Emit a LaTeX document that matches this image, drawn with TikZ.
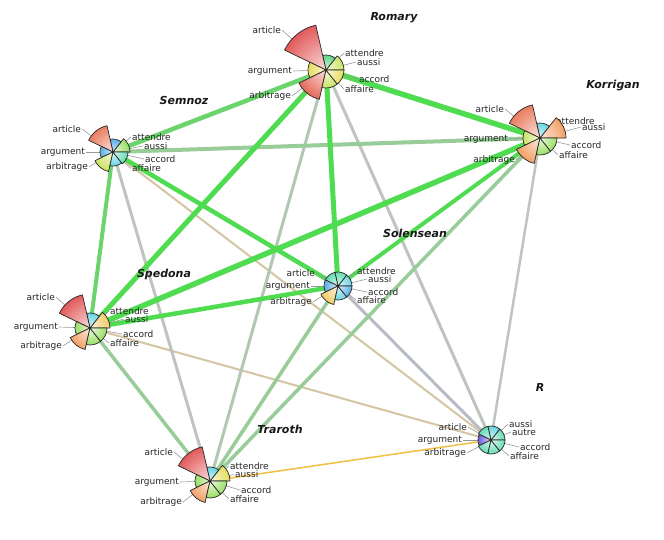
\documentclass[tikz,border=0pt]{standalone}
\usepackage{fontspec}
\setmainfont{DejaVu Sans}[BoldFont={DejaVu Sans Bold},ItalicFont={DejaVu Sans Oblique},BoldItalicFont={DejaVu Sans Bold Oblique}]
\usetikzlibrary{calc}
\definecolor{gBright}{HTML}{50DC50}
\definecolor{gMid}{HTML}{6CD46C}
\definecolor{gPale}{HTML}{98CC98}
\definecolor{gGreyG}{HTML}{B2C8B2}
\definecolor{gGrey}{HTML}{BEC4BE}
\definecolor{gGreyB}{HTML}{B8BCC6}
\definecolor{gTan}{HTML}{D4C6A2}
\definecolor{gGold}{HTML}{F0C040}
\definecolor{cRed}{HTML}{E25B5B}
\definecolor{cRedS}{HTML}{E4685A}
\definecolor{cSalmon}{HTML}{EA7E62}
\definecolor{cOrange}{HTML}{F2A066}
\definecolor{cYellowOr}{HTML}{F2CC6A}
\definecolor{cYellow}{HTML}{E6DE5E}
\definecolor{cYG}{HTML}{CCE466}
\definecolor{cGreen}{HTML}{9ADE66}
\definecolor{cGreenT}{HTML}{5CD482}
\definecolor{cTeal}{HTML}{66DCB4}
\definecolor{cCyan}{HTML}{6AD4E2}
\definecolor{cBlue}{HTML}{5AAEE4}
\definecolor{cPurple}{HTML}{6E5AE0}
\tikzset{
  sectline/.style={draw=black!85, line width=0.7pt, line join=round},
  lab/.style={font=\fontsize{9}{10}\selectfont, text=black!85, inner sep=1pt},
  leader/.style={draw=black!40, line width=0.6pt},
  ttl/.style={font=\fontsize{11}{12}\selectfont\bfseries\itshape, text=black!90, inner sep=0pt},
  edge/.style={line cap=butt},
}
\newcommand{\chartsect}[4]{%
  \pgfmathsetmacro\angS{#2*360/7}%
  \pgfmathsetmacro\angE{(#2+1)*360/7}%
  \begin{scope}
    \clip (#1) -- ++(\angS:#3) arc[start angle=\angS, end angle=\angE, radius=#3] -- cycle;
    \shade[inner color=#4!22!white, outer color=#4] (#1) circle[radius=#3];
  \end{scope}
  \draw[sectline] (#1) -- ++(\angS:#3) arc[start angle=\angS, end angle=\angE, radius=#3] -- cycle;
}
\begin{document}
\begin{tikzpicture}[x=1pt,y=1pt]
\useasboundingbox (0,0) rectangle (664,-539);
\fill[white] (0,0) rectangle (664,-539);
% centres
\coordinate (romary) at (326,-70);
\coordinate (korrigan) at (540,-138);
\coordinate (semnoz) at (113,-152);
\coordinate (solensean) at (338,-286);
\coordinate (spedona) at (90,-328);
\coordinate (rnode) at (491,-440);
\coordinate (traroth) at (210,-481);
% connectors
\foreach \a/\b/\w/\c in {
  semnoz/rnode/2/gTan, spedona/rnode/2/gTan, korrigan/rnode/2.5/gGrey,
  romary/rnode/3/gGrey, semnoz/traroth/3/gGrey, solensean/rnode/3/gGreyB,
  romary/traroth/3/gGreyG,
  korrigan/traroth/3.5/gPale, solensean/traroth/3.5/gPale, spedona/traroth/3.5/gPale,
  semnoz/korrigan/4/gPale,
  traroth/rnode/1.5/gGold,
  semnoz/spedona/4/gMid,
  korrigan/solensean/4/gBright, semnoz/solensean/4.5/gBright, spedona/solensean/4.5/gBright,
  romary/semnoz/4.5/gMid, romary/spedona/5/gBright, romary/solensean/5/gBright,
  romary/korrigan/5.5/gBright, korrigan/spedona/5.5/gBright}
  \draw[edge, line width=\w pt, draw=\c] (\a) -- (\b);
% labels and leaders
\foreach \nm/\t/\x/\y/\an in {
  romary/article/282/30/east, romary/attendre/344/53/west, romary/aussi/356/62/west,
  romary/accord/358/79/west, romary/affaire/344/89/west, romary/arbitrage/292/96/east,
  romary/argument/293/71/east,
  korrigan/article/505/109/east, korrigan/attendre/555/121/west, korrigan/aussi/581/127/west,
  korrigan/accord/570/145/west, korrigan/affaire/558/155/west, korrigan/arbitrage/516/160/east,
  korrigan/argument/509/139/east,
  semnoz/article/82/129/east, semnoz/attendre/131/137/west, semnoz/aussi/143/146/west,
  semnoz/accord/144/159/west, semnoz/affaire/131/168.5/west, semnoz/arbitrage/89/167/east,
  semnoz/argument/86/152/east,
  solensean/article/316/273/east, solensean/attendre/356/271/west, solensean/aussi/367/279/west,
  solensean/accord/367/292/west, solensean/affaire/356/300/west, solensean/arbitrage/313/302/east,
  solensean/argument/311/286/east,
  spedona/article/56/297/east, spedona/attendre/109/311/west, spedona/aussi/124/319/west,
  spedona/accord/122/334/west, spedona/affaire/109/343/west, spedona/arbitrage/63/346/east,
  spedona/argument/59/327/east,
  rnode/article/468/427/east, rnode/aussi/508/424/west, rnode/autre/511/432/west,
  rnode/accord/519/447/west, rnode/affaire/509/456/west, rnode/arbitrage/467/453/east,
  rnode/argument/463/440/east,
  traroth/article/174/452/east, traroth/attendre/229/466/west, traroth/aussi/234/474.5/west,
  traroth/accord/240/490/west, traroth/affaire/229/499/west, traroth/arbitrage/183/502/east,
  traroth/argument/180/482/east}
{
  \node[lab, anchor=\an] (\nm-\t) at (\x,-\y) {\t};
  \draw[leader] (\nm-\t.\an) -- (\nm);
}
% charts
\foreach \i/\r/\c in {0/18/cYG, 1/15/cGreenT, 2/46/cRed, 3/18/cYellow, 4/30/cRedS, 5/18/cYG, 6/18/cYellow}
  {\chartsect{romary}{\i}{\r}{\c}}
\foreach \i/\r/\c in {0/26/cOrange, 1/15/cCyan, 2/34/cSalmon, 3/17/cYG, 4/26/cOrange, 5/17/cGreen, 6/17/cGreen}
  {\chartsect{korrigan}{\i}{\r}{\c}}
\foreach \i/\r/\c in {0/17/cGreen, 1/13/cBlue, 2/27/cSalmon, 3/13/cBlue, 4/20/cYG, 5/14/cCyan, 6/15/cTeal}
  {\chartsect{semnoz}{\i}{\r}{\c}}
\foreach \i/\r/\c in {0/14/cCyan, 1/14/cTeal, 2/14/cTeal, 3/14/cBlue, 4/19/cYellowOr, 5/14/cCyan, 6/14/cBlue}
  {\chartsect{solensean}{\i}{\r}{\c}}
\foreach \i/\r/\c in {0/20/cYellowOr, 1/15/cCyan, 2/34/cRed, 3/15/cGreen, 4/22/cOrange, 5/17/cGreen, 6/17/cGreen}
  {\chartsect{spedona}{\i}{\r}{\c}}
\foreach \i/\r/\c in {0/14/cTeal, 1/14/cCyan, 2/14/cTeal, 3/13/cPurple, 4/14/cTeal, 5/14/cTeal, 6/14/cTeal}
  {\chartsect{rnode}{\i}{\r}{\c}}
\foreach \i/\r/\c in {0/20/cYellow, 1/14/cCyan, 2/35/cRed, 3/15/cGreen, 4/22/cOrange, 5/17/cGreen, 6/17/cGreen}
  {\chartsect{traroth}{\i}{\r}{\c}}
% titles
\node[ttl] (t-romary) at (394,-18) {Romary};
\node[ttl] (t-korrigan) at (613,-86) {Korrigan};
\node[ttl] (t-semnoz) at (184,-100) {Semnoz};
\node[ttl] (t-solensean) at (415,-233) {Solensean};
\node[ttl] (t-spedona) at (164,-274) {Spedona};
\node[ttl] (t-r) at (540,-387) {R};
\node[ttl] (t-traroth) at (280,-429) {Traroth};
\end{tikzpicture}
\end{document}
